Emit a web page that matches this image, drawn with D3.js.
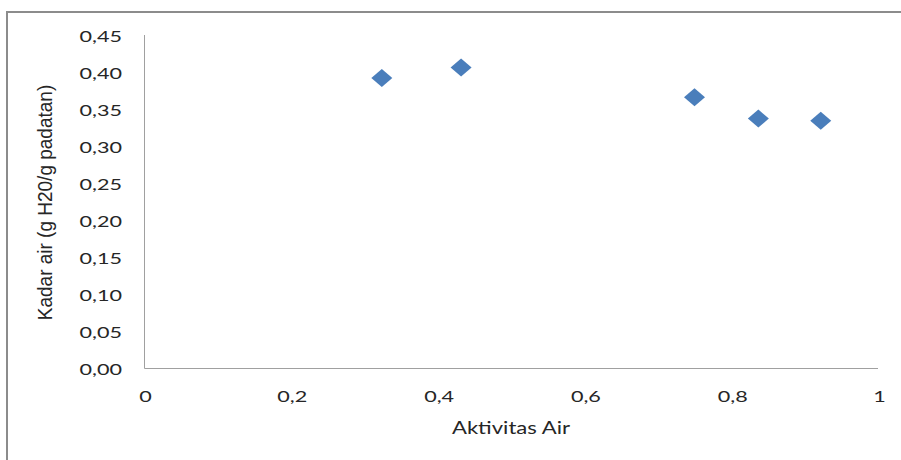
<!DOCTYPE html>
<html>
<head>
<meta charset="utf-8">
<script src="https://cdn.jsdelivr.net/npm/d3@7"></script>
<style>
  html, body { margin: 0; padding: 0; background: #fff; }
  svg { display: block; }
  text { font-family: Lato, "Open Sans", sans-serif; fill: #262626; }
</style>
</head>
<body>
<svg id="chart" width="901" height="460"></svg>
<script>
const aktivitasAir = [0.324, 0.432, 0.750, 0.837, 0.922];
const kadarAir = [0.392, 0.406, 0.366, 0.337, 0.334];
const xTicks = [0, 0.2, 0.4, 0.6, 0.8, 1];
const yTicks = [0, 0.05, 0.10, 0.15, 0.20, 0.25, 0.30, 0.35, 0.40, 0.45];
const xTitle = "Aktivitas Air";
const yTitle = "Kadar air (g H20/g padatan)";

const svg = d3.select("#chart");
const K = 1.35; // horizontal stretch of the text

// outer frame
svg.append("rect").attr("x", 7).attr("y", 12).attr("width", 1000).attr("height", 1000)
  .attr("fill", "none").attr("stroke", "#8c8c8c").attr("stroke-width", 2);

const pLeft = 144, pRight = 878, pTop = 35, pBottom = 368;
const x = d3.scaleLinear().domain([0, 1]).range([pLeft, pRight]);
const y = d3.scaleLinear().domain([0, 0.45]).range([pBottom, pTop]);

const fmtX = d => d === 0 ? "0" : d === 1 ? "1" : d3.format(".1f")(d).replace(".", ",");
const fmtY = d => d3.format(".2f")(d).replace(".", ",");

const gx = svg.append("g").attr("transform", `translate(0,${pBottom})`)
  .call(d3.axisBottom(x).tickValues(xTicks).tickFormat(fmtX).tickSize(0).tickPadding(0));
gx.select(".domain").attr("stroke", "#a0a0a0").attr("d", `M${pLeft + 0.5},0.5H${pRight}`);
gx.selectAll("text").attr("y", 0).attr("dy", 0)
  .attr("transform", `translate(1,34) scale(${K},1)`)
  .style("font-size", "16px").style("font-family", "Lato, sans-serif");

const gy = svg.append("g").attr("transform", `translate(${pLeft},0)`)
  .call(d3.axisLeft(y).tickValues(yTicks).tickFormat(fmtY).tickSize(0).tickPadding(0));
gy.select(".domain").attr("stroke", "#a0a0a0").attr("d", `M0.5,${pTop}V${pBottom + 0.5}`);
gy.selectAll("text").attr("x", 0).attr("dy", "0.35em")
  .attr("transform", `translate(-22,1) scale(${K},1)`)
  .style("font-size", "16px").style("font-family", "Lato, sans-serif");

// axis titles
svg.append("text").attr("text-anchor", "middle")
  .attr("transform", `translate(${(pLeft + pRight) / 2},434) scale(1.3,1)`)
  .style("font-size", "17px").text(xTitle);

svg.append("text").attr("text-anchor", "middle")
  .attr("transform", `translate(52,${(82 + 323) / 2}) rotate(-90) scale(1,1.08)`)
  .style("font-size", "19px").style("font-family", "'Liberation Sans', Arial, sans-serif")
  .text(yTitle);

// diamonds
const hw = 10.5, hh = 9;
svg.append("g").selectAll("path").data(aktivitasAir.map((v, i) => [v, kadarAir[i]]))
  .join("path")
  .attr("transform", d => `translate(${x(d[0])},${y(d[1])})`)
  .attr("d", `M0,${-hh}L${hw},0L0,${hh}L${-hw},0Z`)
  .attr("fill", "#4a7ebb");
</script>
</body>
</html>
